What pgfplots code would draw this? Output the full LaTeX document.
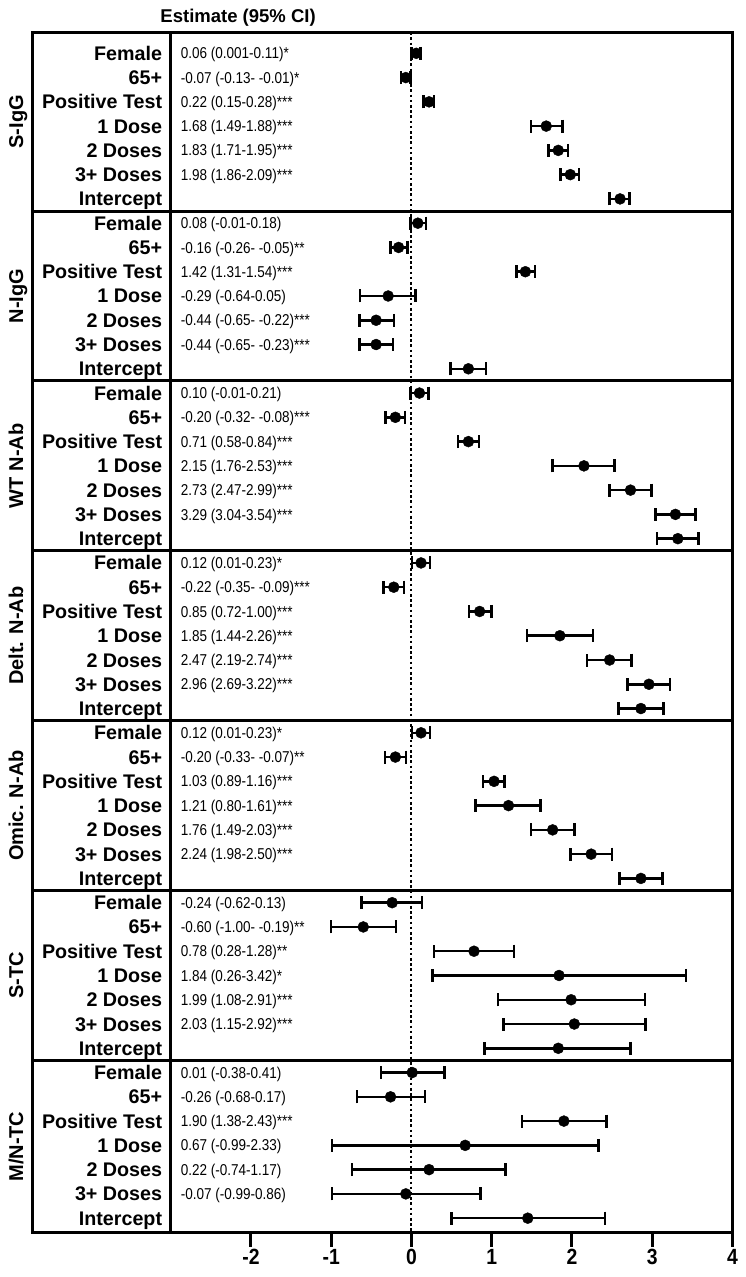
\documentclass[border=0pt]{standalone}
\usepackage{fontspec}
\setmainfont{Liberation Sans}
\newfontfamily\narrowfont[FakeStretch=0.86]{Liberation Sans}
\newfontfamily\narrowbold[FakeStretch=0.88, FakeBold=0]{Liberation Sans Bold}
\usepackage{pgfplots}
\usepackage{pgfplotstable}
\pgfplotsset{compat=1.18}

\pgfplotstableread{
row est lo hi
0 0.06 0.001 0.11
1 -0.07 -0.13 -0.01
2 0.22 0.15 0.28
3 1.68 1.49 1.88
4 1.83 1.71 1.95
5 1.98 1.86 2.09
6 2.60 2.47 2.72
7 0.08 -0.01 0.18
8 -0.16 -0.26 -0.05
9 1.42 1.31 1.54
10 -0.29 -0.64 0.05
11 -0.44 -0.65 -0.22
12 -0.44 -0.65 -0.23
13 0.71 0.49 0.93
14 0.10 -0.01 0.21
15 -0.20 -0.32 -0.08
16 0.71 0.58 0.84
17 2.15 1.76 2.53
18 2.73 2.47 2.99
19 3.29 3.04 3.54
20 3.32 3.06 3.58
21 0.12 0.01 0.23
22 -0.22 -0.35 -0.09
23 0.85 0.72 1.00
24 1.85 1.44 2.26
25 2.47 2.19 2.74
26 2.96 2.69 3.22
27 2.86 2.58 3.14
28 0.12 0.01 0.23
29 -0.20 -0.33 -0.07
30 1.03 0.89 1.16
31 1.21 0.80 1.61
32 1.76 1.49 2.03
33 2.24 1.98 2.50
34 2.86 2.59 3.13
35 -0.24 -0.62 0.13
36 -0.60 -1.00 -0.19
37 0.78 0.28 1.28
38 1.84 0.26 3.42
39 1.99 1.08 2.91
40 2.03 1.15 2.92
41 1.83 0.91 2.73
42 0.01 -0.38 0.41
43 -0.26 -0.68 0.17
44 1.90 1.38 2.43
45 0.67 -0.99 2.33
46 0.22 -0.74 1.17
47 -0.07 -0.99 0.86
48 1.45 0.50 2.41
}\datatable

\newcommand\est[2]{\node[anchor=base west, inner sep=0pt, yshift=-5.6pt, font=\narrowfont\fontsize{15.7}{18}\selectfont] at (axis cs:-2.875,#1) {#2};}
\newcommand\grp[2]{\node[rotate=90, anchor=base, inner sep=0pt, font=\bfseries\fontsize{20}{22}\selectfont] at (axis cs:-4.838,#1) {#2};}

\begin{document}
\begin{tikzpicture}
\useasboundingbox (0,0) rectangle (745pt,-1277pt);
\begin{axis}[
  at={(170.7pt,-1232.7pt)}, anchor=south west,
  width=561.7pt, height=1200.4pt, scale only axis,
  xmin=-3, xmax=4, ymin=-0.866, ymax=48.6, y dir=reverse,
  xtick={-2,-1,0,1,2,3,4}, xticklabels={{-2},{-1},0,1,2,3,4},
  ytick=\empty, xtick pos=left,
  tick align=outside, major tick length=14pt,
  major tick style={line width=3pt, black},
  axis line style={line width=3pt, black},
  xticklabel style={font=\narrowbold\fontsize{22}{24}\selectfont, inner sep=2pt},
  clip=false,
]
\draw[line width=2pt, dash pattern=on 2.6pt off 2.6pt] (axis cs:0,-0.866) -- (axis cs:0,48.6);
\pgfplotsinvokeforeach{6.5,13.5,20.5,27.5,34.5,41.5}{
  \draw[line width=3pt] (axis cs:-4.72,#1) -- (axis cs:4,#1);
}
\draw[line width=3pt] (axis cs:-4.72,-0.866) rectangle (axis cs:-3,48.6);

\addplot[black, only marks, mark=*, mark size=5.5pt,
  error bars/.cd, x dir=both, x explicit, error mark=|,
  error bar style={line width=2.5pt, black},
  error mark options={black, line width=2.5pt, mark size=6.5pt}]
  table[x=est, y=row,
        x error plus expr=\thisrow{hi}-\thisrow{est},
        x error minus expr=\thisrow{est}-\thisrow{lo}] {\datatable};

\foreach \p in {0,7,14,21,28,35,42}{
  \foreach \k/\t in {0/Female,1/65+,2/Positive Test,3/1 Dose,4/2 Doses,5/3+ Doses,6/Intercept}{
    \pgfmathtruncatemacro\r{\p+\k}
    \edef\tmp{\noexpand\node[anchor=base east, inner sep=0pt, yshift=-7pt, font=\noexpand\bfseries\noexpand\fontsize{19.7}{22}\noexpand\selectfont] at (axis cs:-3.105,\r) {\t};}
    \tmp
  }
}

\grp{2.817}{S-IgG}
\grp{10}{N-IgG}
\grp{17}{WT N-Ab}
\grp{24}{Delt. N-Ab}
\grp{31}{Omic. N-Ab}
\grp{38}{S-TC}
\grp{45.05}{M/N-TC}

\node[anchor=base, inner sep=0pt, font=\bfseries\fontsize{18.5}{22}\selectfont] at (axis cs:-2.16,-1.26) {Estimate (95\% CI)};

\est{0}{0.06 (0.001-0.11)*}
\est{1}{-0.07 (-0.13- -0.01)*}
\est{2}{0.22 (0.15-0.28)***}
\est{3}{1.68 (1.49-1.88)***}
\est{4}{1.83 (1.71-1.95)***}
\est{5}{1.98 (1.86-2.09)***}
\est{7}{0.08 (-0.01-0.18)}
\est{8}{-0.16 (-0.26- -0.05)**}
\est{9}{1.42 (1.31-1.54)***}
\est{10}{-0.29 (-0.64-0.05)}
\est{11}{-0.44 (-0.65- -0.22)***}
\est{12}{-0.44 (-0.65- -0.23)***}
\est{14}{0.10 (-0.01-0.21)}
\est{15}{-0.20 (-0.32- -0.08)***}
\est{16}{0.71 (0.58-0.84)***}
\est{17}{2.15 (1.76-2.53)***}
\est{18}{2.73 (2.47-2.99)***}
\est{19}{3.29 (3.04-3.54)***}
\est{21}{0.12 (0.01-0.23)*}
\est{22}{-0.22 (-0.35- -0.09)***}
\est{23}{0.85 (0.72-1.00)***}
\est{24}{1.85 (1.44-2.26)***}
\est{25}{2.47 (2.19-2.74)***}
\est{26}{2.96 (2.69-3.22)***}
\est{28}{0.12 (0.01-0.23)*}
\est{29}{-0.20 (-0.33- -0.07)**}
\est{30}{1.03 (0.89-1.16)***}
\est{31}{1.21 (0.80-1.61)***}
\est{32}{1.76 (1.49-2.03)***}
\est{33}{2.24 (1.98-2.50)***}
\est{35}{-0.24 (-0.62-0.13)}
\est{36}{-0.60 (-1.00- -0.19)**}
\est{37}{0.78 (0.28-1.28)**}
\est{38}{1.84 (0.26-3.42)*}
\est{39}{1.99 (1.08-2.91)***}
\est{40}{2.03 (1.15-2.92)***}
\est{42}{0.01 (-0.38-0.41)}
\est{43}{-0.26 (-0.68-0.17)}
\est{44}{1.90 (1.38-2.43)***}
\est{45}{0.67 (-0.99-2.33)}
\est{46}{0.22 (-0.74-1.17)}
\est{47}{-0.07 (-0.99-0.86)}
\end{axis}
\end{tikzpicture}
\end{document}
